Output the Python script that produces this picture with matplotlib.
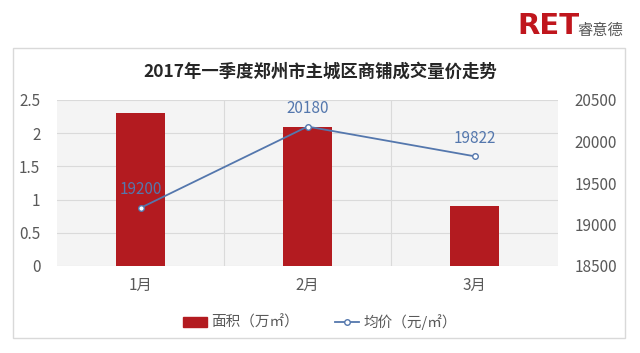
import matplotlib.pyplot as plt
from matplotlib.patches import Rectangle
from matplotlib.lines import Line2D
import numpy as np

plt.rcParams['font.family'] = ['Noto Sans CJK SC', 'DejaVu Sans']

months = ['1月', '2月', '3月']
area = [2.3, 2.1, 0.9]          # 面积（万㎡）
price = [19200, 20180, 19822]   # 均价（元/㎡）

bar_color = '#b31b20'
line_color = '#5477ad'
tick_color = '#595959'

fig = plt.figure(figsize=(6.4, 3.53), dpi=100)

# outer chart frame
fig.patches.append(Rectangle((13 / 640, 1 - 338 / 353), 612 / 640, 290 / 353,
                             transform=fig.transFigure, fill=False,
                             edgecolor='#d9d9d9', lw=1.0))

ax = fig.add_axes([57 / 640, 1 - 266 / 353, 501 / 640, 166 / 353])
ax.set_facecolor('#f4f4f4')
x = np.arange(len(months))
ax.bar(x, area, width=0.29, color=bar_color, zorder=3)
ax.set_xlim(-0.5, 2.5)
ax.set_ylim(0, 2.5)
ax.set_yticks([0, 0.5, 1, 1.5, 2, 2.5])
ax.set_yticklabels(['0', '0.5', '1', '1.5', '2', '2.5'])
ax.set_xticks(x)
ax.set_xticklabels(months)
ax.set_xticks([0.5, 1.5], minor=True)
ax.grid(axis='y', color='#dadada', lw=0.8, zorder=0)
ax.grid(axis='x', which='minor', color='#dadada', lw=0.8, zorder=0)
for s in ax.spines.values():
    s.set_visible(False)
ax.tick_params(axis='both', which='both', length=0, labelsize=11,
               labelcolor=tick_color)
ax.tick_params(axis='y', pad=12)
ax.tick_params(axis='x', pad=8)

ax2 = ax.twinx()
ax2.plot(x, price, color=line_color, lw=1.3, marker='o', ms=4,
         markerfacecolor='white', markeredgecolor=line_color, zorder=4)
ax2.set_ylim(18500, 20500)
ax2.set_yticks([18500, 19000, 19500, 20000, 20500])
for s in ax2.spines.values():
    s.set_visible(False)
ax2.tick_params(axis='y', length=0, labelsize=11, labelcolor=tick_color, pad=12)
for xi, p in zip(x, price):
    ax2.annotate(str(p), (xi, p), xytext=(0, 7), textcoords='offset points',
                 ha='center', va='bottom', fontsize=11, color=line_color)

fig.text(0.5, 1 - 72 / 353, '2017年一季度郑州市主城区商铺成交量价走势',
         ha='center', va='center', fontsize=12.5, fontweight='bold', color='#262626')

# logo
fig.text(517 / 640, 1 - 26 / 353, 'RET', ha='left', va='center', fontsize=21,
         fontweight='bold', color='#c0161d', family=['DejaVu Sans'])
fig.text(577 / 640, 1 - 30 / 353, '睿意德', ha='left', va='center', fontsize=11,
         color='#555555')

handles = [Rectangle((0, 0), 1, 1, color=bar_color),
           Line2D([], [], color=line_color, lw=1.3, marker='o', ms=4,
                  markerfacecolor='white')]
fig.legend(handles, ['面积（万㎡）', '均价（元/㎡）'], loc='center',
           bbox_to_anchor=(0.5, 1 - 322 / 353), ncol=2, frameon=False,
           fontsize=10.5, labelcolor=tick_color, handlelength=1.6,
           handletextpad=0.3, columnspacing=2.5)

fig.savefig('out.png', dpi=100)
